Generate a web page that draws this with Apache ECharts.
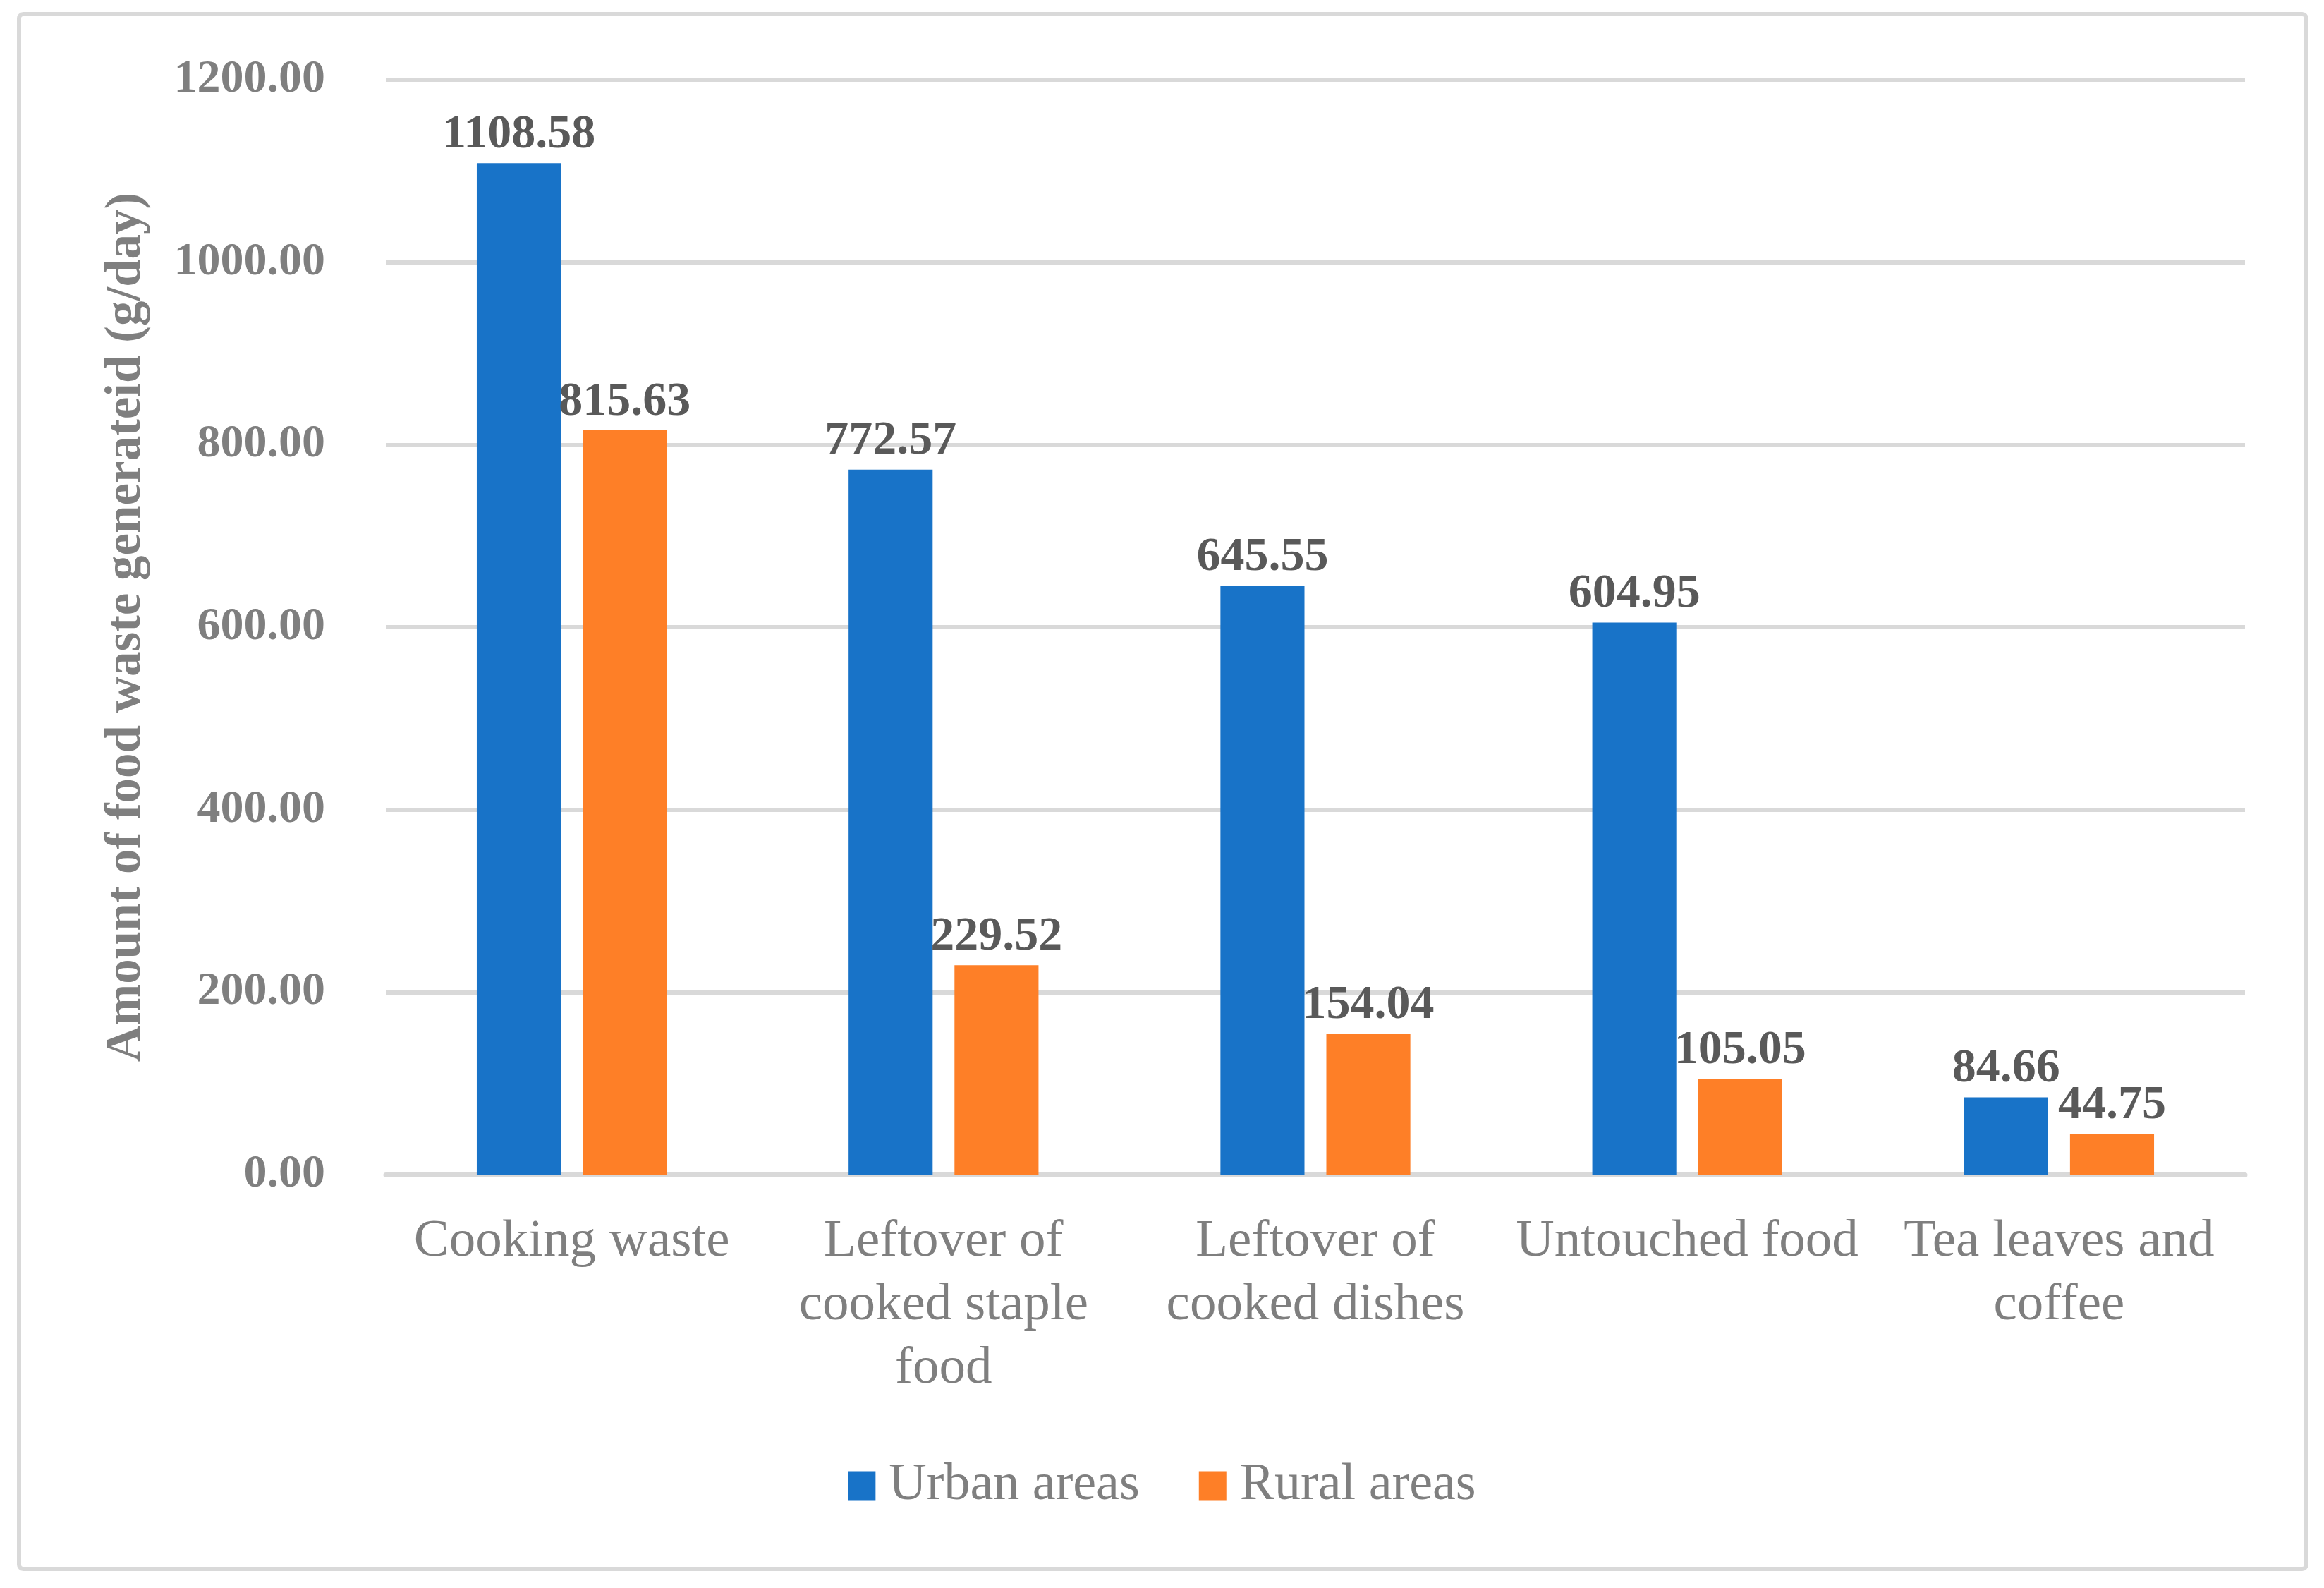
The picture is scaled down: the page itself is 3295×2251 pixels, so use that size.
<!DOCTYPE html>
<html>
<head>
<meta charset="utf-8">
<script src="https://cdn.jsdelivr.net/npm/echarts@6/dist/echarts.min.js"></script>
<style>
html,body{margin:0;padding:0;background:#fff;}
#chart{width:3295px;height:2251px;}
</style>
</head>
<body>
<div id="chart"></div>
<script>
const categories = ['Cooking waste', 'Leftover of\ncooked staple\nfood', 'Leftover of\ncooked dishes', 'Untouched food', 'Tea leaves and\ncoffee'];
const urbanValues = [1108.58, 772.57, 645.55, 604.95, 84.66];
const ruralValues = [815.63, 229.52, 154.04, 105.05, 44.75];
const seriesNames = ['Urban areas', 'Rural areas'];
const yAxisTitle = 'Amount of food waste generateid (g/day)';

const FONT = '"Liberation Serif", "Times New Roman", serif';
const chart = echarts.init(document.getElementById('chart'));
const labelCfg = {
  show: true,
  position: 'top',
  distance: 6,
  fontFamily: FONT,
  fontSize: 68,
  fontWeight: 'bold',
  color: '#595959',
  formatter: p => p.value.toFixed(2)
};
chart.setOption({
  backgroundColor: '#ffffff',
  animation: false,
  graphic: [{
    type: 'rect',
    shape: { x: 27, y: 20, width: 3243, height: 2204, r: 6 },
    style: { fill: 'none', stroke: '#d9d9d9', lineWidth: 6 },
    silent: true
  }],
  grid: { left: 547, right: 112, top: 113, bottom: 586, containLabel: false },
  legend: {
    data: seriesNames,
    left: 'center',
    top: 2064,
    itemWidth: 39,
    itemHeight: 41,
    itemGap: 84,
    icon: 'rect',
    textStyle: { fontFamily: FONT, fontSize: 74, color: '#7f7f7f', padding: [0, 0, 0, 14] }
  },
  xAxis: {
    type: 'category',
    data: categories,
    axisLine: { lineStyle: { color: '#d9d9d9', width: 7 } },
    axisTick: { show: false },
    axisLabel: {
      fontFamily: FONT,
      fontSize: 75,
      color: '#7f7f7f',
      lineHeight: 90,
      margin: 50,
      interval: 0
    }
  },
  yAxis: {
    type: 'value',
    min: 0,
    max: 1200,
    interval: 200,
    name: yAxisTitle,
    nameLocation: 'middle',
    nameRotate: 90,
    nameGap: 332,
    nameTextStyle: { fontFamily: FONT, fontSize: 71, fontWeight: 'bold', color: '#7f7f7f' },
    axisLine: { show: false },
    axisTick: { show: false },
    splitLine: { lineStyle: { color: '#d9d9d9', width: 6 } },
    axisLabel: {
      fontFamily: FONT,
      fontSize: 66,
      fontWeight: 'bold',
      color: '#7f7f7f',
      margin: 86,
      formatter: v => v.toFixed(2)
    }
  },
  series: [
    {
      name: seriesNames[0],
      type: 'bar',
      data: urbanValues,
      barWidth: '22.6%',
      barGap: '26%',
      itemStyle: { color: '#1873c8' },
      label: labelCfg
    },
    {
      name: seriesNames[1],
      type: 'bar',
      data: ruralValues,
      barWidth: '22.6%',
      barGap: '26%',
      itemStyle: { color: '#fe7f27' },
      label: labelCfg
    }
  ]
});
</script>
</body>
</html>
